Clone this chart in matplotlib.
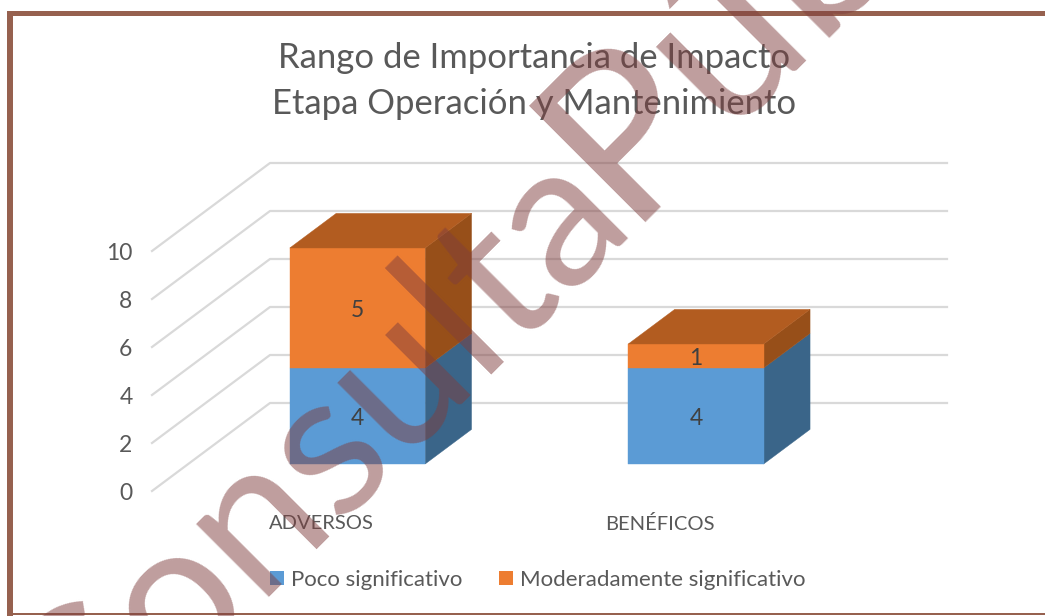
import numpy as np
import matplotlib
matplotlib.use('Agg')
import matplotlib.pyplot as plt
from matplotlib.patches import Polygon, Patch, Rectangle

W, H = 1045, 616

categories = ['ADVERSOS', 'BENÉFICOS']
series_names = ['Poco significativo', 'Moderadamente significativo']
poco = [4, 4]
moderado = [5, 1]
yticks = [0, 2, 4, 6, 8, 10]
title_lines = ['Rango de Importancia de Impacto', 'Etapa Operación y Mantenimiento']
watermark_words = ['Consulta', 'Pública']

front_colors = ['#5b9bd5', '#ed7d31']
side_colors = ['#3a6589', '#974f19']
top_color = '#b25c20'
grey = '#595959'
frame_color = '#96614f'

plt.rcParams['font.family'] = ['Lato', 'DejaVu Sans']

fig = plt.figure(figsize=(W / 100, H / 100), dpi=100)


def box(x0, x1, y_top, y_bot):
    # pixels (from the top left) to figure fractions
    return [x0 / W, 1 - y_bot / H, (x1 - x0) / W, (y_bot - y_top) / H]


# frame of the chart area
for b in [box(7, 13, 11, 616), box(7, 1045, 11, 16), box(7, 1045, 613, 615)]:
    fig.add_artist(Rectangle((b[0], b[1]), b[2], b[3], transform=fig.transFigure,
                             fc=frame_color, ec='none'))

ax = fig.add_axes(box(152, 829, 251, 491))
ax.set_xlim(-0.5, 1.5)
ax.set_ylim(0, 10)
ax.patch.set_alpha(0)
for s in ax.spines.values():
    s.set_visible(False)

# depth of the 3d box, in data units
depth_x = 118 / 338.5
depth_y = 88 / 24


def proj(x, y, d):
    return (x + d * depth_x, y + d * depth_y)


ax.set_xticks(range(len(categories)))
ax.set_xticklabels(categories)
ax.set_yticks(yticks)
ax.tick_params(axis='both', length=0, colors=grey)
ax.tick_params(axis='y', pad=14, labelsize=16.5)
ax.tick_params(axis='x', pad=17.5, labelsize=14.5)

# walls
for v in yticks:
    xs, ys = zip(proj(-0.5, v, 0), proj(-0.5, v, 1), proj(1.5, v, 1))
    ax.plot(xs, ys, color='#d9d9d9', lw=1.6, clip_on=False, zorder=1)

# stacked boxes
bar_w = 0.4
d0, d1 = 0.307, 0.70
for i in range(len(categories)):
    left = i - bar_w / 2
    right = i + bar_w / 2
    bottom = 0
    stack = [poco[i], moderado[i]]
    for j, val in enumerate(stack):
        top = bottom + val
        front = [proj(left, bottom, d0), proj(right, bottom, d0),
                 proj(right, top, d0), proj(left, top, d0)]
        side = [proj(right, bottom, d0), proj(right, bottom, d1),
                proj(right, top, d1), proj(right, top, d0)]
        ax.add_patch(Polygon(side, fc=side_colors[j], ec=side_colors[j], lw=0.3,
                             clip_on=False, zorder=3))
        ax.add_patch(Polygon(front, fc=front_colors[j], ec=front_colors[j], lw=0.3,
                             clip_on=False, zorder=3))
        ax.annotate(str(val), proj(i, bottom + val / 2, d0), xytext=(0, -2), textcoords='offset points',
                    ha='center', va='center', fontsize=16.5, color='#404040', zorder=4)
        bottom = top
    roof = [proj(left, bottom, d0), proj(right, bottom, d0),
            proj(right, bottom, d1), proj(left, bottom, d1)]
    ax.add_patch(Polygon(roof, fc=top_color, ec=top_color, lw=0.3, clip_on=False, zorder=3))

fig.text(534 / W, 1 - 58 / H, title_lines[0], ha='center', va='center', fontsize=24.9, color=grey)
fig.text(534 / W, 1 - 104 / H, title_lines[1], ha='center', va='center', fontsize=24.9, color=grey)

handles = [Patch(fc=front_colors[0], ec='none'), Patch(fc=front_colors[1], ec='none')]
leg = fig.legend(handles, series_names, ncol=2, frameon=False, fontsize=16,
                 loc='center', bbox_to_anchor=(538 / W, 1 - 580 / H),
                 handlelength=0.63, handleheight=0.63, handletextpad=0.32, columnspacing=1.64,
                 labelcolor=grey)

# watermark, two words on one slanted baseline
fig.text(80 / W, 1 - 777 / H, watermark_words[0], rotation=45, rotation_mode='anchor',
         ha='left', va='baseline', fontsize=146, family='Lato',
         color='#7f3d3d', alpha=0.5, zorder=20)
fig.text(625 / W, 1 - 222 / H, watermark_words[1], rotation=45, rotation_mode='anchor',
         ha='left', va='baseline', fontsize=165, family='Lato',
         color='#7f3d3d', alpha=0.5, zorder=20)

fig.savefig('out.png', dpi=100)
